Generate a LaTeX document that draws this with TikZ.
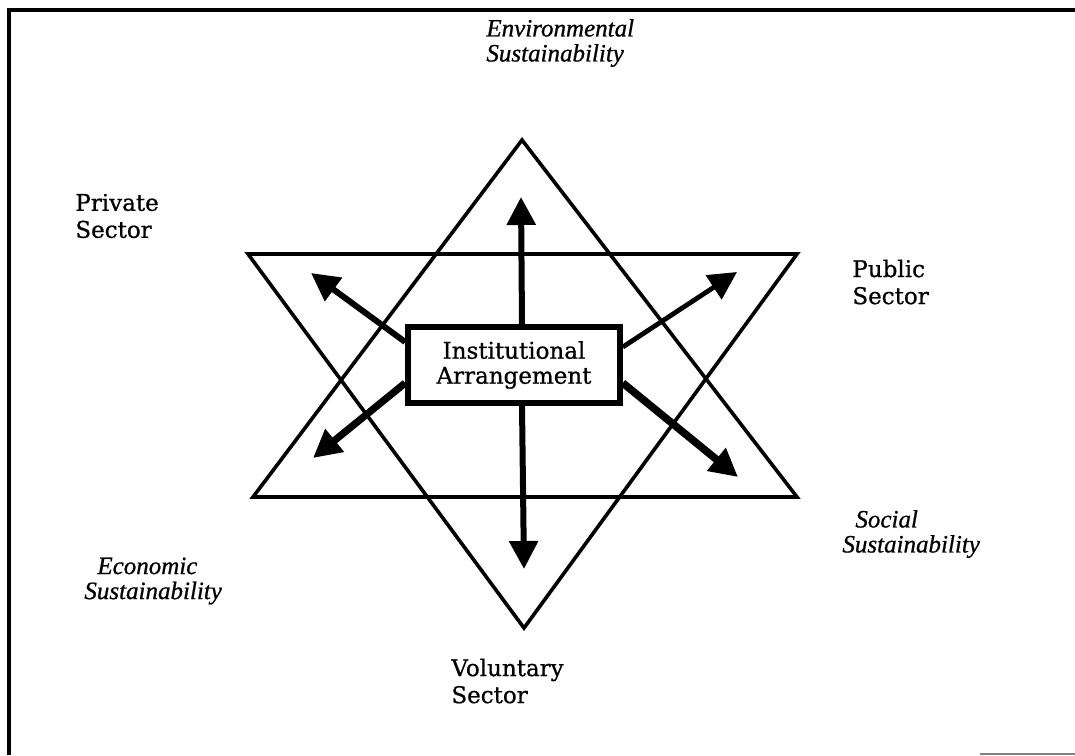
\documentclass[tikz,border=0pt]{standalone}
\usepackage{fontspec}
\setmainfont{DejaVu Serif}[FakeBold=0.8]
\newfontfamily\labelfont{Liberation Serif}[FakeBold=0.8]
\usetikzlibrary{arrows.meta}

\tikzset{
  uplabel/.style={anchor=west,inner sep=0pt,align=left,font=\fontsize{11.5}{13.5}\selectfont},
  itlabel/.style={anchor=west,inner sep=0pt,align=left,font=\labelfont\itshape\fontsize{12.5}{12.5}\selectfont},
  starline/.style={line width=1.8pt,line join=miter},
  bigarrow/.style={line width=3pt,-{Triangle[length=14pt,width=14pt]}},
}

\begin{document}
\begin{tikzpicture}[x=0.5pt,y=-0.5pt]
\useasboundingbox (0,0) rectangle (1075,755);
% frame
\draw[line width=1.8pt] (9,755)--(9,10)--(1075,10);
\draw[line width=1pt,gray] (980,754)--(1075,754);
% triangles
\coordinate (uptop) at (522,140);
\coordinate (upleft) at (253,497);
\coordinate (upright) at (797,497);
\coordinate (downleft) at (248,254);
\coordinate (downright) at (797,254);
\coordinate (downbot) at (524,628);
\draw[starline] (uptop)--(upleft)--(upright)--cycle;
\draw[starline] (downleft)--(downright)--(downbot)--cycle;
% arrow tips
\coordinate (tipn) at (521,197);
\coordinate (tips) at (524,569);
\coordinate (tipnw) at (311,273);
\coordinate (tipsw) at (313,458);
\coordinate (tipne) at (737,272);
\coordinate (tipse) at (738,477);
% setfont left to latex
\node[draw,line width=2.8pt,fill=white,minimum width=106pt,minimum height=38pt,align=center,
  font=\fontsize{11.5}{12.5}\selectfont] (arrangement) at (514,365) {Institutional\\Arrangement};
\draw[bigarrow] ([xshift=4pt]arrangement.north)--(tipn);
\draw[bigarrow] ([xshift=4pt]arrangement.south)--(tips);
\draw[bigarrow] ([yshift=11.5pt]arrangement.west)--(tipnw);
\draw[bigarrow,line width=3.6pt] ([yshift=-9pt]arrangement.west)--(tipsw);
\draw[bigarrow,line width=2.4pt] ([yshift=9pt]arrangement.east)--(tipne);
\draw[bigarrow,line width=3.8pt] ([yshift=-9pt]arrangement.east)--(tipse);
% labels
\node[itlabel] (envsust) at (486,43) {Environmental\\Sustainability};
\node[uplabel] (private) at (75,216) {Private\\Sector};
\node[uplabel] (public) at (852,282) {Public\\Sector};
\node[itlabel] (econsust) at (84,581) {\hspace*{6.5pt}Economic\\Sustainability};
\node[itlabel] (socsust) at (842,534) {\hspace*{6.5pt}Social\\Sustainability};
\node[uplabel] (voluntary) at (451,681) {Voluntary\\Sector};
\end{tikzpicture}
\end{document}
